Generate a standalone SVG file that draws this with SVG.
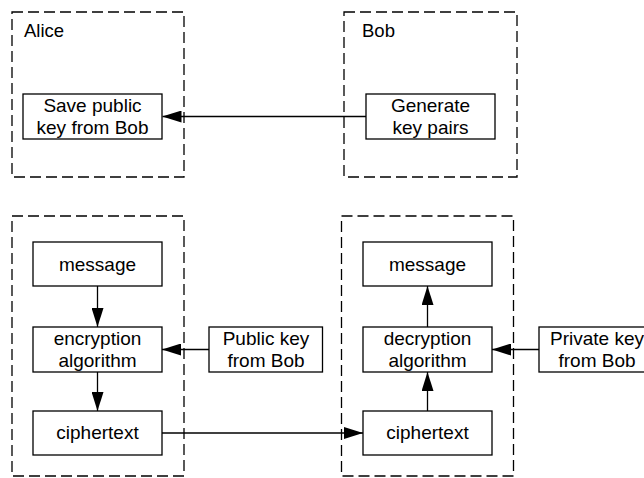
<svg xmlns="http://www.w3.org/2000/svg" width="644" height="478" viewBox="0 0 644 478">
<style>
.frame{fill:none;stroke:#000;stroke-width:1.3;stroke-dasharray:11,5}
.box{fill:#fff;stroke:#000;stroke-width:1.3}
.t{font-family:"Liberation Sans",Arial,sans-serif;font-size:19px;fill:#000;text-anchor:middle}
.lbl{font-family:"Liberation Sans",Arial,sans-serif;font-size:18.5px;fill:#000}
.c{fill:none;stroke:#000;stroke-width:1.3}
</style>
<defs>
<marker id="ah" markerUnits="userSpaceOnUse" markerWidth="19" markerHeight="12" refX="19" refY="6" orient="auto" viewBox="0 0 19 12">
<path d="M0,0 L19,6 L0,12 z" fill="#000"/>
</marker>
</defs>
<rect width="644" height="478" fill="#fff"/>
<g id="frame-alice-top"><rect class="frame" x="12" y="12" width="172" height="165"/><text class="lbl" x="24" y="37">Alice</text></g>
<g id="frame-bob-top"><rect class="frame" x="344" y="12" width="173" height="165"/><text class="lbl" x="362" y="37">Bob</text></g>
<g id="frame-alice-bottom"><rect class="frame" x="12" y="216" width="172" height="260"/></g>
<g id="frame-bob-bottom"><rect class="frame" x="341.5" y="216" width="172" height="260"/></g>
<g id="connectors">
<line class="c" x1="366" y1="116.5" x2="162.5" y2="116.5" marker-end="url(#ah)"/>
<line class="c" x1="97.5" y1="286" x2="97.5" y2="327" marker-end="url(#ah)"/>
<line class="c" x1="97.5" y1="372" x2="97.5" y2="411" marker-end="url(#ah)"/>
<line class="c" x1="209" y1="349.5" x2="162" y2="349.5" marker-end="url(#ah)"/>
<line class="c" x1="162" y1="433" x2="363" y2="433" marker-end="url(#ah)"/>
<line class="c" x1="427.5" y1="411" x2="427.5" y2="372" marker-end="url(#ah)"/>
<line class="c" x1="427.5" y1="327" x2="427.5" y2="286" marker-end="url(#ah)"/>
<line class="c" x1="539" y1="349.5" x2="492" y2="349.5" marker-end="url(#ah)"/>
</g>
<g id="save-key"><rect class="box" x="23" y="94" width="139" height="45"/><text class="t" x="92.5" y="112">Save public</text><text class="t" x="92.5" y="134">key from Bob</text></g>
<g id="generate"><rect class="box" x="366" y="94" width="129" height="45"/><text class="t" x="430.5" y="112">Generate</text><text class="t" x="430.5" y="134">key pairs</text></g>
<g id="message-a"><rect class="box" x="33" y="242" width="129" height="44"/><text class="t" x="97.5" y="270.5">message</text></g>
<g id="encryption"><rect class="box" x="33" y="327" width="129" height="45"/><text class="t" x="97.5" y="345">encryption</text><text class="t" x="97.5" y="367">algorithm</text></g>
<g id="ciphertext-a"><rect class="box" x="33" y="411" width="129" height="44"/><text class="t" x="97.5" y="439">ciphertext</text></g>
<g id="public-key"><rect class="box" x="209" y="327" width="113.5" height="45"/><text class="t" x="266" y="345">Public key</text><text class="t" x="266" y="367">from Bob</text></g>
<g id="message-b"><rect class="box" x="363" y="242" width="129" height="44"/><text class="t" x="427.5" y="270.5">message</text></g>
<g id="decryption"><rect class="box" x="363" y="327" width="129" height="45"/><text class="t" x="427.5" y="345">decryption</text><text class="t" x="427.5" y="367">algorithm</text></g>
<g id="ciphertext-b"><rect class="box" x="363" y="411" width="129" height="44"/><text class="t" x="427.5" y="439">ciphertext</text></g>
<g id="private-key"><rect class="box" x="539" y="327" width="116" height="45"/><text class="t" x="597" y="345">Private key</text><text class="t" x="597" y="367">from Bob</text></g>
</svg>
